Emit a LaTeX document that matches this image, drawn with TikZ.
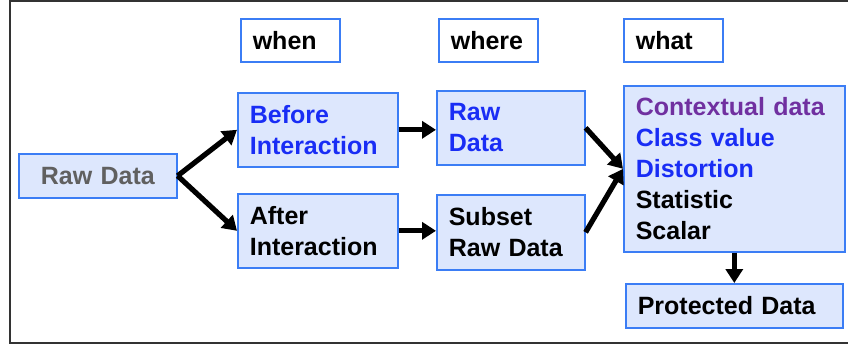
\documentclass[tikz,border=0pt]{standalone}
\usepackage{fontspec}
\setmainfont{Liberation Sans}
\usepackage{xcolor}
\usetikzlibrary{positioning}
\usetikzlibrary{arrows.meta}
\definecolor{boxfill}{RGB}{221,231,253}
\definecolor{boxline}{RGB}{59,125,245}
\definecolor{txtblue}{RGB}{25,45,245}
\definecolor{txtpurple}{RGB}{112,48,160}
\definecolor{txtgray}{RGB}{96,96,96}

\tikzset{
  box/.style={draw=boxline, line width=0.8pt, fill=boxfill, anchor=north west,
    inner xsep=6pt, inner ysep=0pt, align=left, text width=#1,
    font=\fontsize{12.5}{15.5}\selectfont\bfseries},
  tag/.style={box=#1, fill=white},
  flow/.style={line width=2.6pt, -{Triangle[length=7pt,width=8.5pt]}}
}

\begin{document}
\begin{tikzpicture}[x=0.5pt,y=-0.5pt]
   \useasboundingbox (0,0) rectangle (848,345);
   \draw[line width=1.1pt, black!80] (10,1) rectangle (860,343);

   \node[tag=37.5pt, minimum height=21.5pt] (when) at (240,18) {when};
   \node[tag=37.5pt, minimum height=21.5pt] (where) at (438,18) {where};
   \node[tag=37.5pt, minimum height=21.5pt] (what) at (623,18) {what};

   \node[box=67pt, minimum height=22pt, align=center, text=txtgray] (raw) at (18,153) {Raw Data};
   \node[box=68pt, minimum height=37pt, text=txtblue] (before) at (237,92) {Before\\Interaction};
   \node[box=68pt, minimum height=37pt] (after) at (237,193) {After\\Interaction};
   \node[box=62pt, minimum height=37pt, text=txtblue] (rawsub) at (436,90) {Raw\\Data};
   \node[box=62pt, minimum height=37.5pt] (subset) at (436,194) {Subset\\Raw Data};
   \node[box=98.5pt, minimum height=83pt] (kind) at (623,85)
     {\textcolor{txtpurple}{Contextual data}\\
      \textcolor{txtblue}{Class value}\\
      \textcolor{txtblue}{Distortion}\\
      Statistic\\
      Scalar};
   \node[box=96.5pt, minimum height=22pt] (prot) at (625,283) {Protected Data};

   \draw[flow] (raw.east) -- (before.west);
   \draw[flow] (raw.east) -- (after.west);
   \draw[flow] (before.east) -- (before.east -| rawsub.west);
   \draw[flow] (after.east) -- (after.east -| subset.west);
   \draw[flow] (rawsub.east) -- (kind.west);
   \draw[flow] (subset.east) -- (kind.west);
   \draw[flow] (kind.south) -- (prot.north);
\end{tikzpicture}
\end{document}
